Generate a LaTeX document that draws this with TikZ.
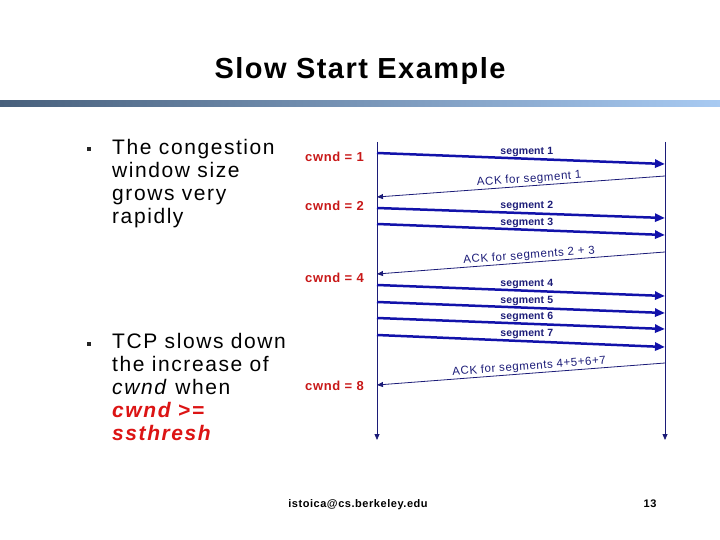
\documentclass[tikz,border=0pt]{standalone}
\usepackage{fontspec}
\setmainfont{Liberation Sans}[LetterSpace=5]
\usepackage{tikz}
\usetikzlibrary{arrows.meta, positioning}
\usepackage{xcolor}
\definecolor{segblue}{RGB}{18,18,170}
\definecolor{acknavy}{RGB}{28,28,120}
\definecolor{cwndred}{RGB}{200,24,24}
\definecolor{bulletred}{RGB}{220,20,20}
\definecolor{barleft}{RGB}{72,96,124}
\definecolor{barright}{RGB}{168,202,242}

\begin{document}
\begin{tikzpicture}[x=1pt, y=1pt,
    seg/.style={draw=segblue, line width=2.5pt, -{Triangle[length=10pt,width=8pt]}},
    ack/.style={draw=acknavy, line width=0.8pt, -{Triangle[length=6pt,width=5pt]}},
    tline/.style={draw=acknavy, line width=0.8pt, -{Triangle[length=6pt,width=5pt]}},
    seglabel/.style={font=\fontsize{10.5}{12}\selectfont\bfseries\addfontfeatures{LetterSpace=1}, text=acknavy, inner sep=1pt},
    acklabel/.style={font=\fontsize{11.5}{13}\selectfont, text=acknavy, inner sep=1pt, sloped},
    cwndlabel/.style={font=\fontsize{13}{15}\selectfont\bfseries, text=cwndred, anchor=base},
    bodytext/.style={font=\fontsize{21}{23}\selectfont\addfontfeatures{LetterSpace=7.5}, align=left, anchor=north west, inner sep=0pt},
    bulletsq/.style={fill=black!85, minimum size=4.5pt, inner sep=0pt}]
  \useasboundingbox (0,0) rectangle (720,-540);
  % Title and bar
  \node[font=\fontsize{29}{32}\selectfont\bfseries, anchor=base] (title) at (360,-79) {Slow Start Example};
  \shade[left color=barleft, right color=barright] (0,-101) rectangle (720,-107);
  % Bullets
  \node[bulletsq] (b1) at (89,-149) {};
  \node[bulletsq] (b2) at (89,-344) {};
  \node[bodytext] (txt1) at (112,-139.5) {The congestion\\window size\\grows very\\rapidly};
  \node[bodytext] (txt2) at (112,-333.5) {TCP slows down\\the increase of\\\textit{cwnd} when\\
    \textcolor{bulletred}{\textbf{\textit{cwnd >=}}}\\\textcolor{bulletred}{\textbf{\textit{ssthresh}}}};
  % Timelines
  \coordinate (sndtop) at (377,-142);
  \coordinate (sndbot) at (377,-440);
  \coordinate (rcvtop) at (665,-142);
  \coordinate (rcvbot) at (665,-440);
  \draw[tline] (sndtop) -- (sndbot);
  \draw[tline] (rcvtop) -- (rcvbot);
  % Segments
  \foreach \n/\ya/\yb in {1/153/164, 2/208/218, 3/224/235, 4/285/296, 5/302/313, 6/318/329, 7/335/347} {
    \coordinate (tx\n) at (377,-\ya);
    \coordinate (rx\n) at (665,-\yb);
    \draw[seg] (tx\n) -- (rx\n) node[seglabel, pos=0.52, above] (seg\n) {segment \n};
  }
  % ACKs
  \foreach \n/\ya/\yb/\txt in {1/176/197/{ACK for segment 1}, 2/252/274/{ACK for segments 2 + 3},
      3/363/385/{ACK for segments 4+5+6+7}} {
    \coordinate (ra\n) at (665,-\ya);
    \coordinate (ta\n) at (377,-\yb);
    \draw[ack] (ra\n) -- (ta\n) node[acklabel, pos=0.47, above] (ack\n) {\txt};
  }
  % Window sizes
  \node[cwndlabel] (cw1) at (334.5,-161.5) {cwnd = 1};
  \node[cwndlabel] (cw2) at (334.5,-210.5) {cwnd = 2};
  \node[cwndlabel] (cw4) at (334.5,-282.5) {cwnd = 4};
  \node[cwndlabel] (cw8) at (334.5,-390.5) {cwnd = 8};
  % Footer
  \node[font=\fontsize{11}{13}\selectfont\bfseries, anchor=base] (mail) at (358,-507) {istoica@cs.berkeley.edu};
  \node[font=\fontsize{11}{13}\selectfont\bfseries, anchor=base] (page) at (650,-507) {13};
\end{tikzpicture}
\end{document}
